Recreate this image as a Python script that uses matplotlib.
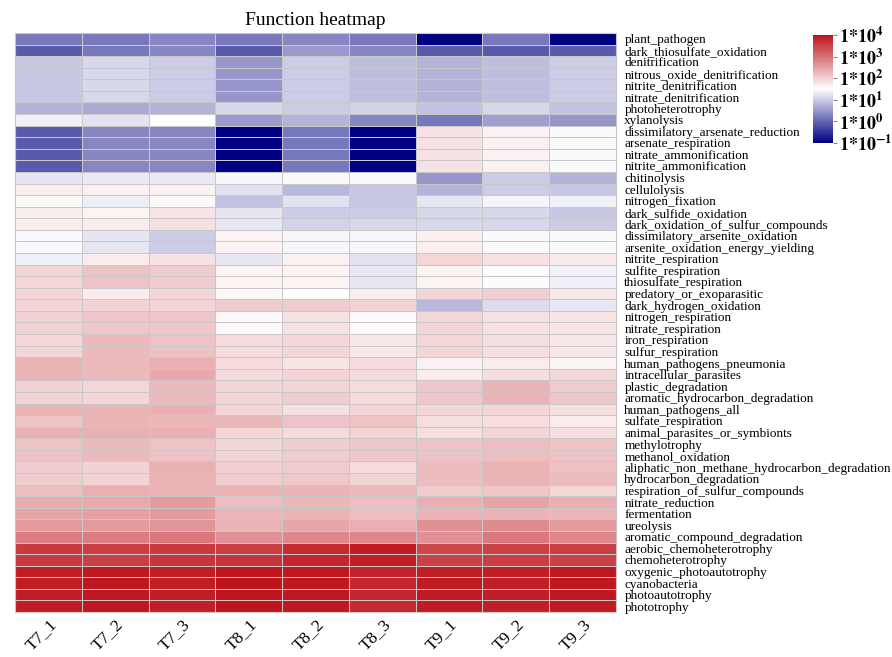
import numpy as np
import matplotlib
matplotlib.use('Agg')
from matplotlib import pyplot as plt
from matplotlib.colors import LinearSegmentedColormap, LogNorm

plt.rcParams['font.family'] = ['Liberation Serif', 'DejaVu Serif']
plt.rcParams['mathtext.fontset'] = 'stix'

functions = [
    'plant_pathogen', 'dark_thiosulfate_oxidation', 'denitrification',
    'nitrous_oxide_denitrification', 'nitrite_denitrification', 'nitrate_denitrification',
    'photoheterotrophy', 'xylanolysis', 'dissimilatory_arsenate_reduction',
    'arsenate_respiration', 'nitrate_ammonification', 'nitrite_ammonification',
    'chitinolysis', 'cellulolysis', 'nitrogen_fixation', 'dark_sulfide_oxidation',
    'dark_oxidation_of_sulfur_compounds', 'dissimilatory_arsenite_oxidation',
    'arsenite_oxidation_energy_yielding', 'nitrite_respiration', 'sulfite_respiration',
    'thiosulfate_respiration', 'predatory_or_exoparasitic', 'dark_hydrogen_oxidation',
    'nitrogen_respiration', 'nitrate_respiration', 'iron_respiration', 'sulfur_respiration',
    'human_pathogens_pneumonia', 'intracellular_parasites', 'plastic_degradation',
    'aromatic_hydrocarbon_degradation', 'human_pathogens_all', 'sulfate_respiration',
    'animal_parasites_or_symbionts', 'methylotrophy', 'methanol_oxidation',
    'aliphatic_non_methane_hydrocarbon_degradation', 'hydrocarbon_degradation',
    'respiration_of_sulfur_compounds', 'nitrate_reduction', 'fermentation', 'ureolysis',
    'aromatic_compound_degradation', 'aerobic_chemoheterotrophy', 'chemoheterotrophy',
    'oxygenic_photoautotrophy', 'cyanobacteria', 'photoautotrophy', 'phototrophy',
]

samples = ['T7_1', 'T7_2', 'T7_3', 'T8_1', 'T8_2', 'T8_3', 'T9_1', 'T9_2', 'T9_3']

# log10 abundance of each function, one list per sample (top row first)
T7_1 = [0.18, -0.12, 0.96, 0.96, 0.96, 0.96, 0.77, 1.35, -0.12, -0.12, -0.12, -0.12,
        1.25, 1.68, 1.56, 1.68, 1.68, 1.46, 1.46, 1.36, 1.93, 1.93, 1.93, 1.93,
        1.98, 1.98, 1.93, 1.93, 2.30, 2.30, 1.98, 1.98, 2.30, 2.14, 2.35, 2.14,
        2.14, 2.03, 2.03, 2.19, 2.38, 2.46, 2.56, 2.88, 3.60, 3.60, 3.89, 3.89, 3.89, 3.89]
T7_2 = [0.18, 0.18, 1.11, 1.11, 1.11, 1.11, 0.67, 1.21, 0.32, 0.32, 0.32, 0.32,
        1.30, 1.64, 1.33, 1.63, 1.70, 1.25, 1.25, 1.70, 2.14, 2.14, 1.70, 1.98,
        2.09, 2.09, 2.24, 2.24, 2.24, 2.24, 1.93, 1.93, 2.30, 2.30, 2.35, 2.24,
        2.24, 1.98, 1.98, 2.35, 2.40, 2.51, 2.56, 2.88, 3.57, 3.55, 3.95, 3.95, 3.95, 3.95]
T7_3 = [0.32, 0.32, 1.01, 1.01, 1.01, 1.01, 0.77, 1.50, 0.32, 0.32, 0.32, 0.32,
        1.30, 1.64, 1.56, 1.78, 1.85, 1.01, 1.01, 1.82, 2.03, 2.03, 1.93, 1.93,
        2.09, 2.09, 2.14, 2.14, 2.35, 2.40, 2.24, 2.24, 2.33, 2.26, 2.35, 2.14,
        2.14, 2.33, 2.30, 2.30, 2.56, 2.56, 2.62, 2.94, 3.60, 3.63, 3.89, 3.89, 3.89, 3.87]
T8_1 = [0.18, -0.12, 0.47, 0.47, 0.47, 0.47, 1.11, 0.52, -1.0, -1.0, -1.0, -1.0,
        1.42, 1.21, 0.91, 1.25, 1.27, 1.62, 1.62, 1.27, 1.62, 1.62, 1.57, 2.03,
        1.57, 1.57, 1.89, 1.89, 1.89, 1.89, 1.96, 1.96, 1.96, 2.26, 1.93, 1.96,
        1.96, 2.00, 2.03, 2.30, 2.19, 2.28, 2.30, 2.67, 3.57, 3.63, 4.00, 4.00, 4.00, 4.00]
T8_2 = [0.32, 0.52, 1.01, 1.01, 1.01, 1.01, 1.01, 0.77, 0.18, 0.18, 0.18, 0.18,
        1.46, 0.81, 1.21, 1.01, 1.06, 1.42, 1.42, 1.65, 1.62, 1.62, 1.50, 2.03,
        1.80, 1.80, 1.93, 1.93, 1.79, 1.96, 1.96, 2.03, 1.85, 2.14, 1.89, 2.03,
        2.03, 2.03, 2.09, 2.32, 2.26, 2.30, 2.43, 2.78, 3.75, 3.79, 3.95, 3.95, 3.95, 3.95]
T8_3 = [0.18, 0.32, 0.86, 0.86, 0.86, 0.86, 1.06, 0.32, -1.0, -1.0, -1.0, -1.0,
        1.46, 0.96, 0.96, 1.01, 1.11, 1.42, 1.42, 1.22, 1.27, 1.27, 1.68, 1.98,
        1.54, 1.54, 1.74, 1.74, 1.89, 1.89, 1.89, 1.89, 1.96, 2.14, 1.96, 2.09,
        2.09, 1.89, 1.96, 2.24, 2.17, 2.19, 2.35, 2.78, 3.92, 3.90, 3.84, 3.80, 3.80, 3.77]
T9_1 = [-1.0, -0.12, 0.77, 0.77, 0.77, 0.77, 0.91, 0.18, 1.80, 1.80, 1.80, 1.80,
        0.47, 0.77, 1.25, 1.11, 1.11, 1.67, 1.67, 1.93, 1.62, 1.62, 1.93, 0.81,
        1.93, 1.93, 1.93, 1.93, 1.64, 1.71, 2.09, 2.09, 1.93, 1.87, 1.87, 2.14,
        2.14, 2.22, 2.19, 2.03, 2.35, 2.32, 2.67, 2.67, 3.47, 3.52, 3.90, 3.92, 3.92, 3.92]
T9_2 = [0.18, -0.12, 0.86, 0.86, 0.86, 0.86, 1.11, 0.57, 1.65, 1.65, 1.65, 1.65,
        1.01, 1.01, 1.40, 1.11, 1.11, 1.46, 1.46, 1.82, 1.47, 1.47, 2.00, 1.15,
        1.82, 1.82, 1.85, 1.85, 1.70, 1.87, 2.30, 2.30, 1.93, 1.87, 1.93, 2.19,
        2.19, 2.32, 2.30, 2.09, 2.46, 2.32, 2.72, 2.94, 3.52, 3.57, 3.87, 3.87, 3.87, 3.87]
T9_3 = [-1.0, -0.12, 1.01, 1.01, 1.01, 1.01, 0.91, 0.47, 1.45, 1.45, 1.45, 1.45,
        0.77, 0.96, 1.36, 0.96, 1.01, 1.46, 1.46, 1.72, 1.36, 1.36, 1.75, 1.27,
        1.77, 1.77, 1.74, 1.74, 1.61, 1.93, 2.03, 2.09, 1.85, 1.71, 1.85, 2.14,
        2.14, 2.16, 2.22, 1.93, 2.35, 2.28, 2.56, 2.78, 3.55, 3.52, 3.95, 3.95, 3.95, 3.92]

data = 10 ** np.array([T7_1, T7_2, T7_3, T8_1, T8_2, T8_3, T9_1, T9_2, T9_3]).T

cmap = LinearSegmentedColormap.from_list('nwr', ['#000080', '#ffffff', '#be141c'])

fig = plt.figure(figsize=(8.92, 6.57), dpi=100)
ax = fig.add_axes([0.0168, 0.0685, 0.6738, 0.8813])
mesh = ax.pcolormesh(data, cmap=cmap, norm=LogNorm(vmin=0.1, vmax=1e4),
                     edgecolors='#c8c8c8', linewidth=0.5)
ax.set_xlim(0, len(samples))
ax.set_ylim(len(functions), 0)
for s in ax.spines.values():
    s.set_color('#c8c8c8')
    s.set_linewidth(0.8)

ax.yaxis.tick_right()
ax.set_yticks(np.arange(len(functions)) + 0.5)
ax.set_yticklabels(functions, fontsize=9.5)
ax.tick_params(axis='y', length=0, pad=6)

ax.set_xticks(np.arange(len(samples)) + 0.5)
ax.set_xticklabels(samples, fontsize=12.5, rotation=45, ha='right', rotation_mode='anchor')
ax.tick_params(axis='x', length=0, pad=3)

ax.set_title('Function heatmap', fontsize=14, pad=6)

# colorbar
cax = fig.add_axes([0.9114, 0.7823, 0.0224, 0.1644])
cb = fig.colorbar(mesh, cax=cax)
cb.outline.set_visible(False)
ticks = [1e-1, 1e0, 1e1, 1e2, 1e3, 1e4]
cb.set_ticks(ticks)
cb.set_ticklabels([r'$\mathbf{1{*}10^{%d}}$' % int(np.log10(t)) for t in ticks])
cb.ax.minorticks_off()
cb.ax.tick_params(length=3, width=0.8, color='#888888', labelsize=13, pad=1)

plt.savefig('out.png', dpi=100)
